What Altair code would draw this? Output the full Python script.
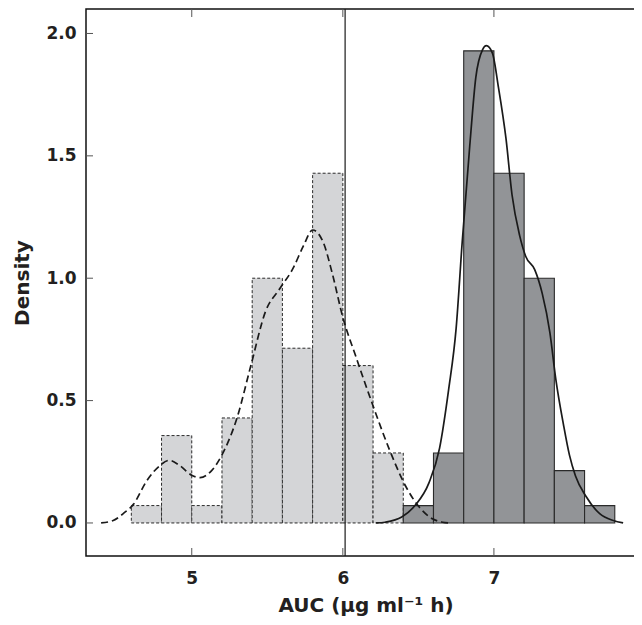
import altair as alt
import pandas as pd

# Histogram 1 (light grey, dashed edges)
a_start = [4.6, 4.8, 5.0, 5.2, 5.4, 5.6, 5.8, 6.0, 6.2]
a_end = [4.8, 5.0, 5.2, 5.4, 5.6, 5.8, 6.0, 6.2, 6.4]
a_density = [0.071, 0.357, 0.071, 0.429, 1.0, 0.714, 1.429, 0.643, 0.286]

# Histogram 2 (dark grey, solid edges)
b_start = [6.4, 6.6, 6.8, 7.0, 7.2, 7.4, 7.6]
b_end = [6.6, 6.8, 7.0, 7.2, 7.4, 7.6, 7.8]
b_density = [0.071, 0.286, 1.929, 1.429, 1.0, 0.214, 0.071]

# Density curve 1 (dashed)
ka_x = [4.40, 4.48, 4.55, 4.615, 4.70, 4.79, 4.85, 4.92, 5.0, 5.055, 5.13, 5.21,
        5.30, 5.39, 5.49, 5.58, 5.67, 5.74, 5.80, 5.87, 5.93, 6.0, 6.084, 6.195,
        6.305, 6.416, 6.504, 6.593, 6.66, 6.70]
ka_y = [0.0, 0.01, 0.04, 0.077, 0.17, 0.235, 0.256, 0.235, 0.195, 0.185, 0.213, 0.29,
        0.43, 0.64, 0.867, 0.955, 1.04, 1.133, 1.197, 1.147, 1.02, 0.84, 0.684, 0.487,
        0.305, 0.150, 0.066, 0.017, 0.003, 0.0]

# Density curve 2 (solid)
kb_x = [6.22, 6.28, 6.39, 6.48, 6.57, 6.64, 6.70, 6.75, 6.79, 6.84, 6.88, 6.925,
        6.95, 6.99, 7.03, 7.08, 7.12, 7.17, 7.21, 7.27, 7.32, 7.37, 7.41, 7.46,
        7.50, 7.54, 7.61, 7.70, 7.79, 7.855]
kb_y = [0.0, 0.003, 0.024, 0.073, 0.164, 0.305, 0.544, 0.796, 1.147, 1.54, 1.82, 1.934,
        1.95, 1.92, 1.78, 1.57, 1.34, 1.175, 1.09, 1.035, 0.937, 0.78, 0.586, 0.403,
        0.277, 0.192, 0.108, 0.038, 0.01, 0.0]

vline_x = [6.015]
x_ticks = [5, 6, 7]
y_ticks = [0.0, 0.5, 1.0, 1.5, 2.0]

W, H = 559, 547
TICK = 7
FONT = "DejaVu Sans"
INK = "#231f20"

xscale = alt.Scale(domain=[4.3, 8.0], nice=False, zero=False)
yscale = alt.Scale(domain=[-0.135, 2.10], nice=False, zero=False)
xaxis = alt.Axis(values=x_ticks, ticks=False, tickSize=0, domain=False, grid=False,
                 labelFont=FONT, labelFontWeight="bold", labelFontSize=17, labelColor=INK,
                 labelPadding=14, titleFont=FONT, titleFontWeight="bold", titleFontSize=20,
                 titleColor=INK, titlePadding=9)
yaxis = alt.Axis(values=y_ticks, format=".1f", ticks=False, tickSize=0, domain=False, grid=False,
                 labelFont=FONT, labelFontWeight="bold", labelFontSize=17, labelColor=INK,
                 labelPadding=10, titleFont=FONT, titleFontWeight="bold", titleFontSize=20,
                 titleColor=INK, titlePadding=13)
XT = "AUC (μg ml⁻¹ h)"
YT = "Density"


def X(f):
    return alt.X(f, type="quantitative", scale=xscale, axis=xaxis, title=XT)


def Y(f):
    return alt.Y(f, type="quantitative", scale=yscale, axis=yaxis, title=YT)


da = pd.DataFrame({"x": a_start, "x2": a_end, "y": a_density})
db = pd.DataFrame({"x": b_start, "x2": b_end, "y": b_density})
ka = pd.DataFrame({"x": ka_x, "y": ka_y})
kb = pd.DataFrame({"x": kb_x, "y": kb_y})
vl = pd.DataFrame({"x": vline_x})
xt = pd.DataFrame({"x": x_ticks})
yt = pd.DataFrame({"y": y_ticks})

bars_a = alt.Chart(da).mark_rect(fill="#d4d5d7", stroke="#2a2a2a", strokeWidth=1,
                                 strokeDash=[3, 2]).encode(
    x=X("x"), x2="x2", y=Y("y"), y2=alt.datum(0))
bars_b = alt.Chart(db).mark_rect(fill="#929497", stroke="#2a2a2a", strokeWidth=1.1).encode(
    x=X("x"), x2="x2", y=Y("y"), y2=alt.datum(0))
line_a = alt.Chart(ka).mark_line(color="#1a1a1a", strokeWidth=1.7, strokeDash=[7, 4],
                                 interpolate="monotone").encode(x=X("x"), y=Y("y"))
line_b = alt.Chart(kb).mark_line(color="#1a1a1a", strokeWidth=1.7,
                                 interpolate="monotone").encode(x=X("x"), y=Y("y"))
vrule = alt.Chart(vl).mark_rule(color="#1a1a1a", strokeWidth=1.2).encode(x=X("x"))

tick_l = alt.Chart(yt).mark_rule(color="#555555", strokeWidth=1).encode(
    y=Y("y"), x=alt.value(0), x2=alt.value(TICK))
tick_r = alt.Chart(yt).mark_rule(color="#555555", strokeWidth=1).encode(
    y=Y("y"), x=alt.value(W - TICK), x2=alt.value(W))
tick_t = alt.Chart(xt).mark_rule(color="#555555", strokeWidth=1).encode(
    x=X("x"), y=alt.value(0), y2=alt.value(TICK + 1))
tick_b = alt.Chart(xt).mark_rule(color="#555555", strokeWidth=1).encode(
    x=X("x"), y=alt.value(H - TICK - 1), y2=alt.value(H))

chart = alt.layer(bars_a, bars_b, line_a, line_b, vrule, tick_l, tick_r, tick_t, tick_b).properties(
    width=W, height=H,
    background="white",
    padding={"left": 78, "top": 1, "right": -11, "bottom": 61},
    autosize=alt.AutoSizeParams(type="none"),
).configure_view(stroke="#111111", strokeWidth=1.5)

chart.save("out.html", embed_options={"renderer": "svg", "actions": False})
